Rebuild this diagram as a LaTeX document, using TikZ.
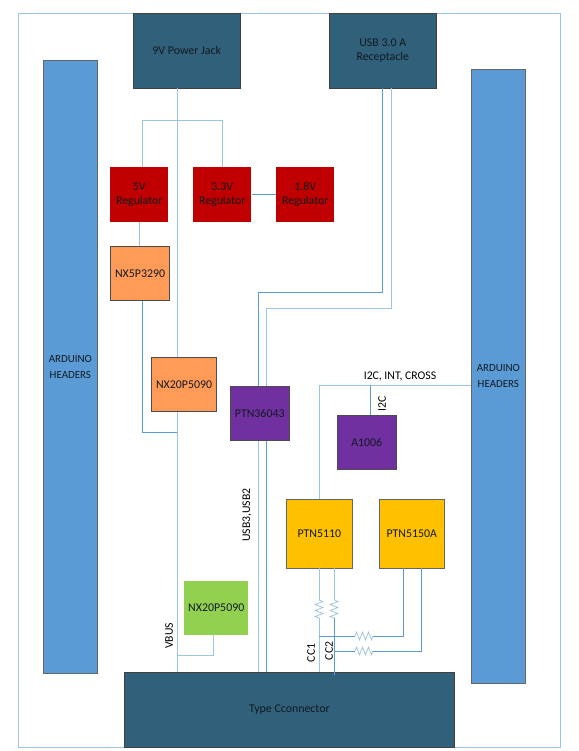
\documentclass[tikz,border=0pt]{standalone}
\usepackage{fontspec}
\setmainfont{Carlito}
\usetikzlibrary{decorations.pathmorphing}
\definecolor{teal}{HTML}{31607A}
\definecolor{hdr}{HTML}{5B9BD5}
\definecolor{lite}{HTML}{9DC3E6}
\definecolor{med}{HTML}{5B9BD5}
\definecolor{redbox}{HTML}{C00000}
\definecolor{orangebox}{HTML}{FF9A57}
\definecolor{purplebox}{HTML}{7030A0}
\definecolor{amberbox}{HTML}{FFC000}
\definecolor{greenbox}{HTML}{92D050}
\definecolor{ink}{HTML}{111A22}
\tikzset{
  x=0.75pt,y=-0.75pt,
  blockbox/.style={rectangle,inner sep=0pt,align=center,text=ink,font=\fontsize{8.9pt}{11pt}\selectfont,anchor=north west},
  tealbox/.style={blockbox,fill=teal,draw=black!75,line width=0.6pt},
  hdrbox/.style={blockbox,fill=hdr,draw=black!60,line width=0.5pt,font=\fontsize{8.2pt}{12pt}\selectfont},
  regbox/.style={blockbox,fill=redbox,minimum width=43.5pt,minimum height=41pt},
  orbox/.style={blockbox,fill=orangebox,draw=black!70,line width=0.6pt},
  pubox/.style={blockbox,fill=purplebox,draw=black!70,line width=0.6pt,minimum width=44pt,minimum height=40.5pt},
  ambox/.style={blockbox,fill=amberbox,draw=black!60,line width=0.6pt,minimum width=49.5pt,minimum height=51.5pt},
  wire/.style={draw=lite,line width=0.55pt},
  wired/.style={draw=med,line width=0.55pt},
  lab/.style={inner sep=0pt,text=black,font=\fontsize{8.8pt}{10pt}\selectfont},
  rlab/.style={lab,rotate=90},
  resist/.style={decorate,decoration={zigzag,amplitude=2.9pt,segment length=4.5pt}},
}
\begin{document}
\begin{tikzpicture}
\useasboundingbox (0,0) rectangle (579,751);
\fill[white] (0,0) rectangle (579,751);
\draw[draw=lite,line width=0.6pt] (18,13) rectangle (560,747);

% column and row coordinates
\coordinate (cpow) at (177,0);
\coordinate (cloopl) at (142,0);
\coordinate (cloopr) at (222,0);
\coordinate (cfive) at (139,0);
\coordinate (cusba) at (382,0);
\coordinate (cusbb) at (391,0);
\coordinate (cmida) at (258,0);
\coordinate (cmidb) at (266,0);
\coordinate (ci2c) at (319,0);
\coordinate (ca10) at (370,0);
\coordinate (ccc) at (334,0);
\coordinate (cgreen) at (213,0);
\coordinate (cpa) at (403,0);
\coordinate (cpb) at (421,0);
\coordinate (rloop) at (0,120);
\coordinate (rback) at (0,432);
\coordinate (rusba) at (0,292);
\coordinate (rusbb) at (0,308);
\coordinate (ri2c) at (0,385);
\coordinate (rvbus) at (0,655);
\coordinate (rcca) at (0,636);
\coordinate (rccb) at (0,651);

\node[tealbox,minimum width=80pt,minimum height=56pt] (jack) at (133,13) {9V Power Jack};
\node[tealbox,minimum width=80pt,minimum height=56pt] (usb) at (329,13) {USB 3.0 A\\Receptacle};
\node[hdrbox,minimum width=40.5pt,minimum height=460pt] (lh) at (43,60) {ARDUINO\\HEADERS};
\node[hdrbox,minimum width=40.5pt,minimum height=460.5pt] (rh) at (471,69) {ARDUINO\\HEADERS};
\node[regbox] (rfive) at (110,167) {5V\\Regulator};
\node[regbox] (rthree) at (193,167) {3.3V\\Regulator};
\node[regbox] (rone) at (276,167) {1.8V\\Regulator};
\node[orbox,minimum width=44.5pt,minimum height=40.5pt] (nxa) at (110,246) {NX5P3290};
\node[orbox,minimum width=49pt,minimum height=40.5pt] (nxb) at (151,357) {NX20P5090};
\node[pubox] (ptn) at (230,386) {PTN36043};
\node[pubox] (aten) at (337,415) {A1006};
\node[ambox] (pa) at (286,499) {PTN5110};
\node[ambox,minimum width=48.5pt] (pb) at (379,499) {PTN5150A};
\node[blockbox,fill=greenbox,minimum width=48pt,minimum height=40pt] (gr) at (184,581) {NX20P5090};
\node[tealbox,minimum width=247.5pt,minimum height=56pt] (tc) at (124,672) {Type Cconnector};

% power
\draw[wire] (jack.south -| cpow) -- (nxb.north -| cpow);
\draw[wire] (nxb.south -| cpow) -- (tc.north -| cpow);
\draw[wire] (rfive.north -| cloopl) -- (rloop -| cloopl) -- (rloop -| cloopr) -- (rthree.north -| cloopr);
\draw[wired] (rthree.east) -- (rone.west);
\draw[wire] (rfive.south -| cfive) -- (nxa.north -| cfive);
\draw[wired] (nxa.south -| cloopl) -- (rback -| cloopl) -- (rback -| cpow);
\draw[wire] (gr.south -| cgreen) -- (rvbus -| cgreen) -- (rvbus -| cpow);
% USB
\draw[wired] (usb.south -| cusba) -- (rusba -| cusba) -- (rusba -| cmida) -- (ptn.north -| cmida);
\draw[wire] (usb.south -| cusbb) -- (rusbb -| cusbb) -- (rusbb -| cmidb) -- (ptn.north -| cmidb);
\draw[wire] (ptn.south -| cmida) -- (tc.north -| cmida);
\draw[wired] (ptn.south -| cmidb) -- (tc.north -| cmidb);
% I2C
\draw[wire] (pa.north -| ci2c) -- (ri2c -| ci2c) -- (ri2c -| rh.west);
\draw[wired] (ri2c -| ca10) -- (aten.north -| ca10);
% CC lines with resistors
\coordinate (ra1) at (319,600); \coordinate (ra2) at (319,618);
\coordinate (rb1) at (334,600); \coordinate (rb2) at (334,618);
\coordinate (rc1) at (355,636); \coordinate (rc2) at (373,636);
\coordinate (rd1) at (355,651); \coordinate (rd2) at (373,651);
\draw[wire] (pa.south -| ci2c) -- (ra1);
\draw[wire,resist] (ra1) -- (ra2);
\draw[wire] (ra2) -- (tc.north -| ci2c);
\draw[wire] (pa.south -| ccc) -- (rb1);
\draw[wire,resist] (rb1) -- (rb2);
\draw[wired] (rb2) -- ([yshift=-2.2pt]tc.north -| ccc);
\draw[wired] (rcca -| ci2c) -- (rc1);
\draw[wire,resist] (rc1) -- (rc2);
\draw[wired] (rc2) -- (rcca -| cpa) -- (pb.south -| cpa);
\draw[wired] (rccb -| ccc) -- (rd1);
\draw[wire,resist] (rd1) -- (rd2);
\draw[wired] (rd2) -- (rccb -| cpb) -- (pb.south -| cpb);
% labels
\node[lab] (lbi) at (400,376) {I2C, INT, CROSS};
\node[rlab] (lbj) at (382,404) {I2C};
\node[rlab] (lbu) at (247,515) {USB3,USB2};
\node[rlab] (lbv) at (169,636) {VBUS};
\node[rlab] (lba) at (311,653) {CC1};
\node[rlab] (lbb) at (329,651) {CC2};
\end{tikzpicture}
\end{document}
